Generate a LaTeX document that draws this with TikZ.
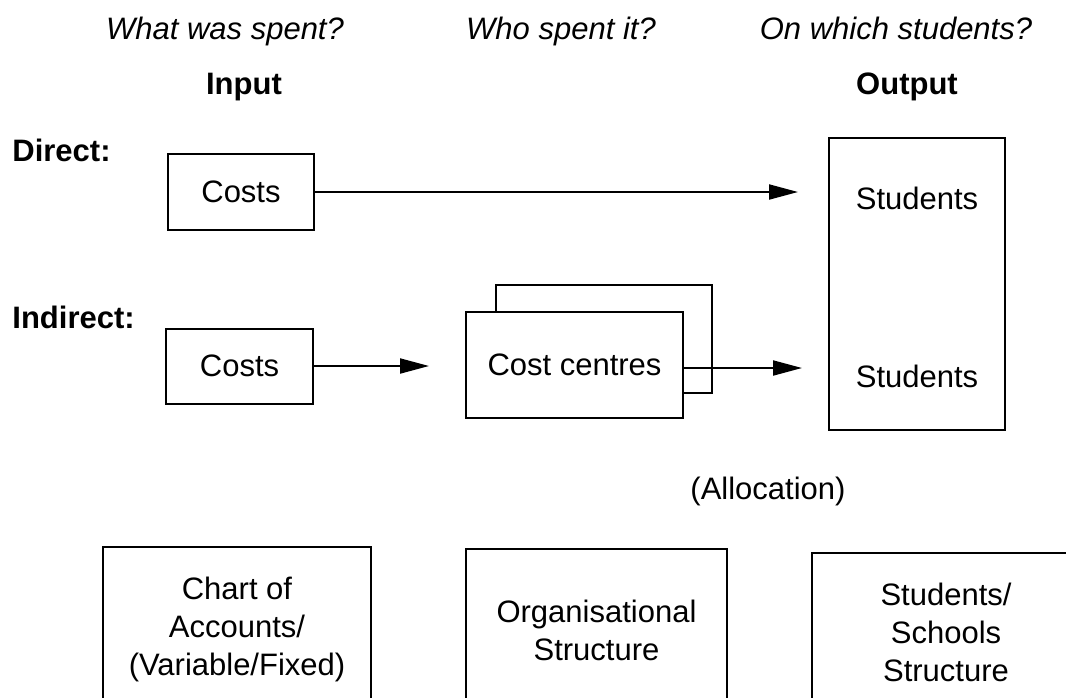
\documentclass[tikz,border=0pt]{standalone}
\usepackage{fontspec}
\setmainfont{Liberation Sans}
\usetikzlibrary{arrows.meta}
\begin{document}
\begin{tikzpicture}[x=0.5pt,y=-0.5pt,
  every node/.style={font=\fontsize{15.5}{19}\selectfont, inner sep=0pt},
  box/.style={draw, line width=1pt, align=center},
  lab/.style={anchor=base},
  arr/.style={line width=1pt, -{Triangle[length=14.5pt,width=7.5pt]}}]
\useasboundingbox (0,0) rectangle (1066,697);
\clip (0,0) rectangle (1066,697);
% header labels
\node[lab, font=\fontsize{15.5}{19}\selectfont\itshape] (q1) at (225,39) {What was spent?};
\node[lab, font=\fontsize{15.5}{19}\selectfont\itshape] (q2) at (561,39) {Who spent it?};
\node[lab, font=\fontsize{15.5}{19}\selectfont\itshape] (q3) at (896,39) {On which students?};
\node[lab, font=\fontsize{15.5}{19}\selectfont\bfseries] (inp) at (244,94) {Input};
\node[lab, font=\fontsize{15.5}{19}\selectfont\bfseries] (outp) at (907,94) {Output};
\node[anchor=base west, font=\fontsize{15.5}{19}\selectfont\bfseries] (dir) at (12,161) {Direct:};
\node[anchor=base west, font=\fontsize{15.5}{19}\selectfont\bfseries] (ind) at (12,328) {Indirect:};
% boxes
\node[box, minimum width=73pt, minimum height=38pt] (dcost) at (241,192) {Costs};
\node[box, minimum width=73.5pt, minimum height=37.5pt] (icost) at (239.5,366) {Costs};
\node[box, minimum width=108pt, minimum height=54pt] (ccback) at (604,339) {};
\node[box, fill=white, minimum width=108.5pt, minimum height=53pt] (cc) at (574.5,365) {Cost centres};
\node[box, minimum width=88pt, minimum height=146pt] (out) at (917,284) {};
\node (s1) at (917,198) {Students};
\node (s2) at (917,376) {Students};
% arrows
\draw[arr, shorten >=15pt] (dcost.east) -- (dcost.east -| out.west);
\draw[arr, shorten >=18pt] (icost.east) -- (icost.east -| cc.west);
\draw[arr, shorten >=13pt] ([yshift=-1.5pt]cc.east) -- ([yshift=-1.5pt]cc.east -| out.west);
\node[lab] (alloc) at (768,499) {(Allocation)};
% bottom boxes
\node[box, minimum width=134pt, minimum height=82pt] (chart) at (237,629) {Chart of\\Accounts/\\(Variable/Fixed)};
\node[box, minimum width=130.5pt, minimum height=81pt] (org) at (596.5,630) {Organisational\\Structure};
\node[box, minimum width=134pt, minimum height=79pt] (stud) at (946,632) {Students/\\Schools\\Structure};
\end{tikzpicture}
\end{document}
